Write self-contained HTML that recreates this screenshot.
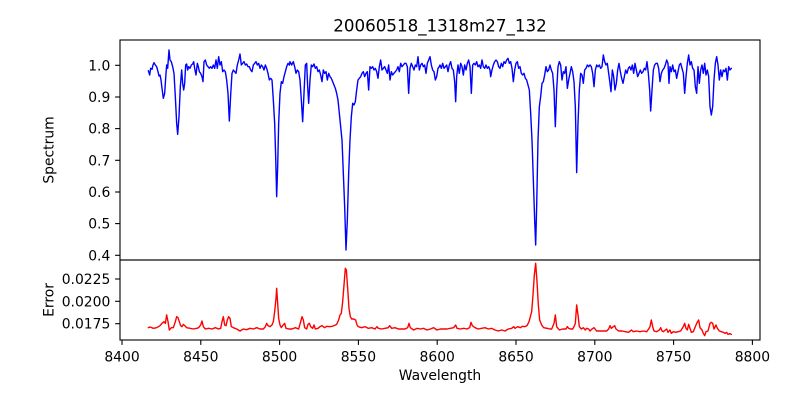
<!DOCTYPE html>
<html><head><meta charset="utf-8"><style>
html,body{margin:0;padding:0;background:#fff;}
svg{display:block;}
text{font-family:"DejaVu Sans","Liberation Sans",sans-serif;fill:#000;}
.t{font-size:13.9px;}
.d{fill:none;stroke-width:1.4;stroke-linejoin:round;stroke-linecap:round;}
</style></head><body>
<svg width="800" height="400" viewBox="0 0 800 400" xmlns="http://www.w3.org/2000/svg">
<rect width="800" height="400" fill="#fff"/>
<!-- spectrum -->
<g transform="translate(140,40) scale(0.333333)">
<polyline class="d" stroke="#0000ff" vector-effect="non-scaling-stroke" points="25,92 29,105 32,85 36,88 39,75 42,68 46,75 50,80 54,95 57,108 60,105 63,120 66,145 70,175 74,160 78,100 80,75 83,85 87,30 90,60 94,65 98,80 102,100 106,170 110,250 113,283 117,230 121,140 125,90 128,130 131,150 134,130 137,75 140,72 143,90 146,80 150,85 154,75 158,72 161,65 164,85 168,105 172,70 175,80 178,95 182,100 186,110 189,125 192,65 196,60 200,75 204,80 208,85 212,80 216,85 220,75 224,85 228,60 232,85 236,50 240,75 244,65 248,95 252,90 256,95 260,120 264,160 268,243 272,165 276,100 280,90 284,95 288,100 292,75 296,60 300,42 304,75 308,70 312,65 316,75 320,72 324,80 328,80 332,90 336,95 340,75 344,70 348,65 352,75 356,70 360,85 364,75 368,80 372,90 376,75 380,85 384,100 388,120 392,115 396,120 400,180 404,250 407,350 410,470 413,380 416,250 420,160 424,125 428,130 432,110 436,95 440,80 444,70 448,75"/>
</g>
<g transform="translate(290,40) scale(0.333333)">
<polyline class="d" stroke="#0000ff" vector-effect="non-scaling-stroke" points="-2,75 0,65 5,75 10,65 14,80 18,100 22,90 26,95 30,120 34,180 38,245 42,160 46,75 50,70 53,140 56,190 60,120 64,75 68,80 72,72 76,85 80,80 84,95 88,90 92,105 96,125 100,90 104,100 108,95 112,120 116,100 120,110 124,115 128,125 132,135 136,145 140,160 144,180 148,220 152,260 156,300 160,400 164,500 168,630 172,540 176,400 180,300 184,230 188,190 192,195 196,185 200,150 204,120 208,115 212,110 216,100 220,95 224,110 228,100 232,95 236,150 240,80 244,85 248,80 252,90 256,85 260,95 264,115 268,80 272,60 276,90 280,85 284,80 288,90 292,100 296,75 300,120 304,95 308,105 312,100 316,95 320,90 324,80 328,95 332,70 336,80 340,75 344,70 348,70 352,80 356,160 360,85 364,70 368,80 372,90 376,75 380,80 384,50 388,90 392,75 396,70 400,80 404,75 408,100 412,70 416,60 420,50 424,75 428,90 432,95 436,120 440,110 444,85 448,80"/>
</g>
<g transform="translate(440,40) scale(0.333333)">
<polyline class="d" stroke="#0000ff" vector-effect="non-scaling-stroke" points="-2,80 0,75 4,85 8,70 12,85 16,80 20,75 24,95 28,75 32,65 36,85 40,90 44,125 47,185 50,110 54,75 58,100 62,70 66,80 70,105 74,75 78,90 82,70 86,60 90,80 94,160 98,75 102,70 106,75 110,65 114,80 118,75 122,85 126,60 130,80 134,85 138,75 142,85 146,80 150,90 152,110 156,90 160,75 164,65 168,60 172,65 176,80 180,85 184,70 188,80 192,65 196,70 200,60 204,55 208,70 212,65 216,85 220,125 224,90 228,70 232,65 236,85 240,80 244,100 248,105 252,100 256,115 260,120 264,135 268,150 272,220 276,300 280,420 284,540 287,615 290,500 294,300 298,200 302,170 306,130 310,125 314,105 318,80 322,95 326,90 330,75 334,90 338,100 342,150 346,260 350,150 354,80 358,65 362,75 366,120 370,95 374,100 378,80 382,145 386,120 390,100 394,80 398,95 402,125 406,200 410,398 414,250 418,150 422,100 426,105 430,130 434,90 438,85 442,75 446,80 450,75"/>
</g>
<g transform="translate(590,40) scale(0.333333)">
<polyline class="d" stroke="#0000ff" vector-effect="non-scaling-stroke" points="0,75 4,80 8,100 12,140 16,90 20,75 24,80 28,75 32,85 36,80 40,45 44,65 48,75 52,70 56,100 60,130 63,155 67,90 71,110 75,150 79,130 83,90 87,70 91,95 95,115 99,130 103,110 107,90 111,100 115,85 119,80 123,90 127,75 131,100 135,70 139,90 143,110 147,100 151,90 155,100 159,95 163,85 167,90 171,65 175,100 179,150 182,213 186,150 190,90 194,75 198,70 202,70 206,85 210,125 214,100 218,90 222,85 226,75 230,60 234,70 237,130 240,80 244,95 248,75 252,95 256,90 260,115 264,95 268,75 272,70 276,85 280,100 284,160 288,110 292,70 296,45 300,75 304,65 308,85 312,90 316,140 320,160 324,80 328,130 332,90 336,75 340,100 344,70 348,105 352,90 356,110 360,200 364,225 368,200 372,120 376,70 380,50 384,75 388,120 392,90 396,110 400,90 404,95 408,85 412,120 416,80 420,90 424,85"/>
</g>
<!-- error -->
<g transform="translate(140,255) scale(0.333333)">
<polyline class="d" stroke="#ff0000" vector-effect="non-scaling-stroke" points="25,218 30,216 40,220 50,218 60,212 66,205 72,200 76,205 80,180 84,200 88,225 94,218 100,218 106,200 110,185 114,188 118,200 122,212 126,215 130,208 134,212 140,218 150,220 160,222 170,220 176,218 182,210 186,198 190,215 196,222 206,220 216,222 226,218 236,222 242,220 246,200 250,185 254,210 258,212 262,195 266,185 270,190 274,215 280,218 290,222 300,228 310,222 320,224 330,220 340,222 350,218 360,222 370,222 376,215 380,205 384,212 390,215 396,210 400,200 404,170 408,130 410,100 412,130 416,190 420,210 424,218 428,212 434,205 438,220 446,222 456,222 466,218 476,222 482,200 486,185 490,195 494,218 500,222 504,208 508,205 512,215 518,220 522,210 526,222 534,220 540,215 546,212 554,218 560,214 570,215 580,213 590,208 596,195 600,180 604,175 608,140 612,90"/>
</g>
<g transform="translate(345,255) scale(0.333333)">
<polyline class="d" stroke="#ff0000" vector-effect="non-scaling-stroke" points="-3,90 1,40 4,45 8,100 12,160 16,185 20,192 26,192 32,195 36,210 40,215 50,218 60,215 70,220 80,218 90,222 96,215 100,220 110,222 120,220 130,218 134,212 140,220 150,218 160,222 170,222 180,222 188,218 192,205 196,218 206,225 216,220 226,222 236,220 246,225 256,222 266,218 276,225 286,222 296,222 306,222 316,220 326,218 332,210 336,220 346,222 356,220 366,222 374,218 378,202 382,212 390,218 400,222 410,220 420,218 430,222 440,220 450,225 460,228 470,225 480,228 490,222 500,220 506,215 510,220 518,215 526,218 532,214 540,215 546,212 552,200 556,185 560,170 564,120 568,60 572,25 576,80 580,150 584,195 590,210 596,218 606,220"/>
</g>
<g transform="translate(550,255) scale(0.333333)">
<polyline class="d" stroke="#ff0000" vector-effect="non-scaling-stroke" points="-9,220 0,222 5,222 12,205 16,180 20,215 28,225 38,222 48,222 52,215 56,220 62,222 68,222 72,215 76,205 80,150 84,180 88,215 94,222 100,218 106,225 110,220 116,222 120,228 126,222 132,218 140,228 150,228 160,228 170,228 176,222 180,212 184,220 190,215 194,212 198,222 206,228 216,228 226,230 236,232 244,225 250,230 260,228 270,230 280,228 290,230 296,222 300,215 304,195 308,215 312,228 320,230 328,225 332,218 336,228 340,230 346,225 350,222 354,232 360,225 364,235 370,230 378,232 384,230 392,228 400,215 404,205 408,220 412,225 416,208 420,220 424,232 430,230 436,215 440,205 446,195 450,218 456,225 460,235 464,242 468,230 474,228 480,205 484,202 488,205 492,222 498,210 502,220 508,228 514,230 520,232 526,235 530,232 534,238 540,236 544,238"/>
</g>
<!-- axes frames -->
<rect x="120" y="40" width="640" height="220" fill="none" stroke="#000" stroke-width="1.1"/>
<rect x="120" y="260" width="640" height="80" fill="none" stroke="#000" stroke-width="1.1"/>
<!-- upper y ticks -->
<g stroke="#000" stroke-width="1.1">
<line x1="115.1" y1="65.3" x2="120" y2="65.3"/>
<line x1="115.1" y1="97.0" x2="120" y2="97.0"/>
<line x1="115.1" y1="128.6" x2="120" y2="128.6"/>
<line x1="115.1" y1="160.3" x2="120" y2="160.3"/>
<line x1="115.1" y1="192.0" x2="120" y2="192.0"/>
<line x1="115.1" y1="223.6" x2="120" y2="223.6"/>
<line x1="115.1" y1="255.3" x2="120" y2="255.3"/>
<line x1="115.1" y1="279.0" x2="120" y2="279.0"/>
<line x1="115.1" y1="301.3" x2="120" y2="301.3"/>
<line x1="115.1" y1="323.7" x2="120" y2="323.7"/>
<line x1="122.0" y1="340" x2="122.0" y2="344.9"/>
<line x1="200.8" y1="340" x2="200.8" y2="344.9"/>
<line x1="279.6" y1="340" x2="279.6" y2="344.9"/>
<line x1="358.4" y1="340" x2="358.4" y2="344.9"/>
<line x1="437.2" y1="340" x2="437.2" y2="344.9"/>
<line x1="516.0" y1="340" x2="516.0" y2="344.9"/>
<line x1="594.8" y1="340" x2="594.8" y2="344.9"/>
<line x1="673.6" y1="340" x2="673.6" y2="344.9"/>
<line x1="752.4" y1="340" x2="752.4" y2="344.9"/>
</g>
<g class="t" text-anchor="end">
<text class="t" x="110.3" y="70.3">1.0</text>
<text class="t" x="110.3" y="102.0">0.9</text>
<text class="t" x="110.3" y="133.6">0.8</text>
<text class="t" x="110.3" y="165.3">0.7</text>
<text class="t" x="110.3" y="197.0">0.6</text>
<text class="t" x="110.3" y="228.6">0.5</text>
<text class="t" x="110.3" y="260.3">0.4</text>
<text class="t" x="110.3" y="284.0">0.0225</text>
<text class="t" x="110.3" y="306.3">0.0200</text>
<text class="t" x="110.3" y="328.7">0.0175</text>
</g>
<g text-anchor="middle">
<text class="t" x="122.0" y="361.7">8400</text>
<text class="t" x="200.8" y="361.7">8450</text>
<text class="t" x="279.6" y="361.7">8500</text>
<text class="t" x="358.4" y="361.7">8550</text>
<text class="t" x="437.2" y="361.7">8600</text>
<text class="t" x="516.0" y="361.7">8650</text>
<text class="t" x="594.8" y="361.7">8700</text>
<text class="t" x="673.6" y="361.7">8750</text>
<text class="t" x="752.4" y="361.7">8800</text>
<text class="t" x="440" y="380">Wavelength</text>
<text x="440" y="31.7" style="font-size:16.7px">20060518_1318m27_132</text>
<text class="t" transform="translate(53.5,150) rotate(-90)">Spectrum</text>
<text class="t" transform="translate(53.5,300) rotate(-90)">Error</text>
</g>
</svg>
</body></html>
